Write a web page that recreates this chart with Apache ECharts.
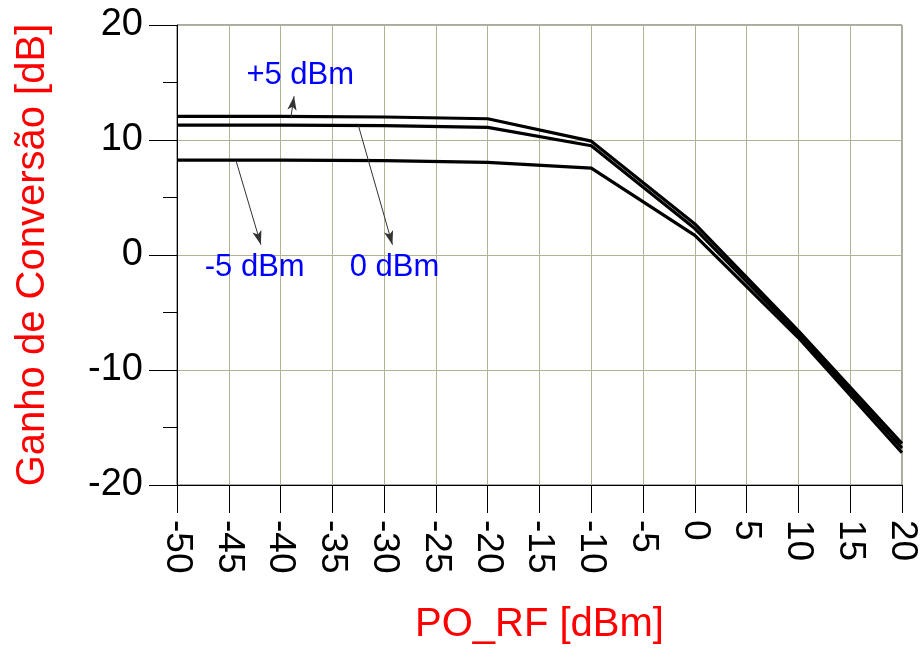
<!DOCTYPE html>
<html>
<head>
<meta charset="utf-8">
<script src="https://cdn.jsdelivr.net/npm/echarts@6/dist/echarts.min.js"></script>
<style>html,body{margin:0;padding:0;background:#fff}#c{width:924px;height:658px}</style>
</head>
<body>
<div id="c"></div>
<script>
const xValues = [-50, -40, -30, -20, -10, 0, 10, 20];
const gainLo5 = [12.05, 12.05, 12.0, 11.85, 9.9, 2.7, -6.6, -16.4];
const gainLo0 = [11.3, 11.3, 11.25, 11.1, 9.5, 2.3, -6.9, -16.8];
const gainLoM5 = [8.25, 8.25, 8.2, 8.05, 7.55, 1.7, -7.2, -17.2];
const seriesNames = ['+5 dBm', '0 dBm', '-5 dBm'];

const annotLabels = ['+5 dBm', '-5 dBm', '0 dBm'];
const annotLabelX = [-38.1, -42.5, -29.0];
const annotLabelY = [15.6, -1.1, -1.1];
const arrowFromX = [-39.0, -44.3, -32.5];
const arrowFromY = [12.0, 8.2, 11.3];
const arrowToX = [-38.7, -41.9, -29.2];
const arrowToY = [13.8, 0.9, 0.9];

const FONT = 'Liberation Sans, Arial, sans-serif';
const GRIDC = '#b2b294';

function pairs(xs, ys) { return xs.map((x, i) => [x, ys[i]]); }

const chart = echarts.init(document.getElementById('c'), null, {renderer: 'canvas'});
const lineSeries = [gainLo5, gainLo0, gainLoM5].map((ys, i) => ({
  name: seriesNames[i],
  type: 'line',
  data: pairs(xValues, ys),
  showSymbol: false,
  symbol: 'none',
  lineStyle: {color: '#000', width: 3.2},
  z: 3,
  animation: false
}));

const annotSeries = {
  type: 'scatter',
  data: annotLabels.map((t, i) => ({value: [annotLabelX[i], annotLabelY[i]], name: t})),
  symbolSize: 0,
  itemStyle: {opacity: 1},
  label: {
    show: true, position: 'inside', formatter: p => p.name,
    color: '#0000ff', fontSize: 31, fontFamily: FONT
  },
  markLine: {
    silent: true,
    symbol: ['none', 'arrow'],
    symbolSize: [7, 14],
    lineStyle: {color: '#333', width: 1, type: 'solid', opacity: 1},
    label: {show: false},
    data: arrowFromX.map((x, i) => [
      {coord: [x, arrowFromY[i]]},
      {coord: [arrowToX[i], arrowToY[i]]}
    ])
  },
  z: 4,
  animation: false
};

chart.setOption({
  animation: false,
  backgroundColor: '#fff',
  grid: {left: 177, right: 22, top: 25, bottom: 173, show: true, borderColor: '#555', borderWidth: 1},
  xAxis: {
    type: 'value', min: -50, max: 20, interval: 5,
    name: 'PO_RF [dBm]', nameLocation: 'middle', nameGap: 120,
    nameTextStyle: {color: '#ff0000', fontSize: 40, fontFamily: FONT},
    axisLine: {show: true, onZero: false, lineStyle: {color: '#000', width: 1}},
    axisTick: {show: true, length: 28, lineStyle: {color: '#000'}},
    axisLabel: {rotate: -90, margin: 35, color: '#000', fontSize: 37, fontFamily: FONT, showMinLabel: true, showMaxLabel: true},
    splitLine: {show: true, lineStyle: {color: GRIDC, width: 1}}
  },
  yAxis: {
    type: 'value', min: -20, max: 20, interval: 10,
    name: 'Ganho de Conversão [dB]', nameLocation: 'middle', nameGap: 124,
    nameTextStyle: {color: '#ff0000', fontSize: 40, fontFamily: FONT},
    axisLine: {show: true, onZero: false, lineStyle: {color: '#000', width: 1}},
    axisTick: {show: true, length: 28, lineStyle: {color: '#000'}},
    minorTick: {show: true, splitNumber: 2, length: 14, lineStyle: {color: '#000'}},
    axisLabel: {margin: 34, color: '#000', fontSize: 38, fontFamily: FONT},
    splitLine: {show: true, lineStyle: {color: GRIDC, width: 1}}
  },
  series: lineSeries.concat([annotSeries])
});
</script>
</body>
</html>
